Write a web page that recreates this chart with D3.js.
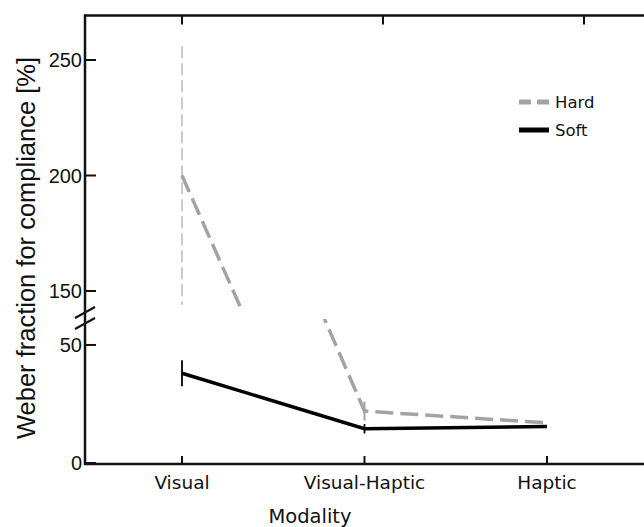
<!DOCTYPE html>
<html>
<head>
<meta charset="utf-8">
<script src="https://cdn.jsdelivr.net/npm/d3@7"></script>
<style>
html,body{margin:0;padding:0;background:#fff;}
svg{display:block;}
</style>
</head>
<body>
<svg id="chart" width="644" height="527"></svg>
<script>
// ---- data ----
const categories = ["Visual", "Visual-Haptic", "Haptic"];
const hardValues = [200, 22, 17];
const hardErrors = [56, 4, 0];
const softValues = [38, 14.5, 15.5];
const softErrors = [5.5, 2, 0];
const upperTicks = [150, 200, 250];
const lowerTicks = [0, 50];
const seriesNames = ["Hard", "Soft"];

const svg = d3.select("#chart");
const W = 644, H = 527;
const axisX = 85, bottomY = 464, topY = 15.5;
const upperBottom = 307, lowerTop = 319;

// scales
const xBottom = d3.scalePoint().domain(categories).range([182, 547]);
const xTop = d3.scalePoint().domain(categories).range([182, 584]);
const yLow = d3.scaleLinear().domain([0, 61]).range([463, 319]);
const yHigh = d3.scaleLinear().domain([150, 250]).range([291, 60]);

const gray = "#a3a3a3";

// clip paths
const defs = svg.append("defs");
defs.append("clipPath").attr("id", "clipUp").append("rect")
  .attr("x", axisX).attr("y", topY).attr("width", W - axisX).attr("height", upperBottom - topY);
defs.append("clipPath").attr("id", "clipLow").append("rect")
  .attr("x", axisX).attr("y", lowerTop).attr("width", W - axisX).attr("height", bottomY - lowerTop);

const hard = categories.map((c, i) => ({c, v: hardValues[i], e: hardErrors[i]}));
const soft = categories.map((c, i) => ({c, v: softValues[i], e: softErrors[i]}));

const gUp = svg.append("g").attr("clip-path", "url(#clipUp)");
const gLow = svg.append("g").attr("clip-path", "url(#clipLow)");

// Hard error bars
gUp.selectAll("line.errH").data(hard.filter(d => d.e > 0 && d.v > 100)).join("line")
  .attr("x1", d => xBottom(d.c)).attr("x2", d => xBottom(d.c))
  .attr("y1", d => yHigh(d.v + d.e)).attr("y2", d => yHigh(d.v - d.e))
  .attr("stroke", "#bdbdbd").attr("stroke-width", 1.6).attr("stroke-dasharray", "12,5");

gLow.selectAll("line.errH").data(hard.filter(d => d.e > 0 && d.v < 100)).join("line")
  .attr("x1", d => xBottom(d.c)).attr("x2", d => xBottom(d.c))
  .attr("y1", d => yLow(d.v + d.e)).attr("y2", d => yLow(d.v - d.e))
  .attr("stroke", gray).attr("stroke-width", 2);

// Hard line in both panels
const lineHigh = d3.line().x(d => xBottom(d.c)).y(d => yHigh(d.v));
const lineLow = d3.line().x(d => xBottom(d.c)).y(d => yLow(d.v));
gUp.append("path").datum(hard).attr("d", lineHigh)
  .attr("fill", "none").attr("stroke", gray).attr("stroke-width", 3.5).attr("stroke-dasharray", "18,7");
gLow.append("path").datum(hard).attr("d", lineLow)
  .attr("fill", "none").attr("stroke", gray).attr("stroke-width", 3.5).attr("stroke-dasharray", "18,7")
  .attr("stroke-dashoffset", 6);

// Soft error bars and line
gLow.selectAll("line.errS").data(soft.filter(d => d.e > 0)).join("line")
  .attr("x1", d => xBottom(d.c)).attr("x2", d => xBottom(d.c))
  .attr("y1", d => yLow(d.v + d.e)).attr("y2", d => yLow(d.v - d.e))
  .attr("stroke", "#000").attr("stroke-width", 1.8);
gLow.append("path").datum(soft).attr("d", lineLow)
  .attr("fill", "none").attr("stroke", "#000").attr("stroke-width", 3.5);

// ---- axes ----
const axStroke = "#111";
svg.append("line").attr("x1", axisX).attr("x2", axisX).attr("y1", topY - 1).attr("y2", bottomY + 1)
  .attr("stroke", axStroke).attr("stroke-width", 2.5);
svg.append("line").attr("x1", axisX - 1).attr("x2", W).attr("y1", bottomY).attr("y2", bottomY)
  .attr("stroke", axStroke).attr("stroke-width", 2.5);
svg.append("line").attr("x1", axisX - 1).attr("x2", W).attr("y1", topY).attr("y2", topY)
  .attr("stroke", axStroke).attr("stroke-width", 2.5);

// bottom ticks (inside) and labels
svg.selectAll("line.xt").data(categories).join("line")
  .attr("x1", d => xBottom(d)).attr("x2", d => xBottom(d))
  .attr("y1", bottomY).attr("y2", bottomY - 8)
  .attr("stroke", axStroke).attr("stroke-width", 2);
svg.selectAll("text.xl").data(categories).join("text")
  .attr("x", d => xBottom(d)).attr("y", 489)
  .attr("text-anchor", "middle")
  .attr("font-family", "DejaVu Sans, Verdana, sans-serif").attr("font-size", 18.5)
  .attr("fill", "#111").text(d => d);

// top ticks
svg.selectAll("line.xtt").data(categories).join("line")
  .attr("x1", d => xTop(d)).attr("x2", d => xTop(d))
  .attr("y1", topY).attr("y2", topY + 9)
  .attr("stroke", axStroke).attr("stroke-width", 2);

// y ticks
const yTickData = upperTicks.map(v => ({v, y: yHigh(v)})).concat(lowerTicks.map(v => ({v, y: yLow(v)})));
svg.selectAll("line.yt").data(yTickData).join("line")
  .attr("x1", axisX).attr("x2", axisX + 11)
  .attr("y1", d => d.y).attr("y2", d => d.y)
  .attr("stroke", axStroke).attr("stroke-width", 2);
svg.selectAll("text.yl").data(yTickData).join("text")
  .attr("x", 82).attr("y", d => d.y)
  .attr("dy", "0.36em")
  .attr("text-anchor", "end")
  .attr("font-family", "Liberation Sans, Arial, sans-serif").attr("font-size", 20)
  .attr("fill", "#111").text(d => d.v);

// axis break marks
[0, 11].forEach(off => {
  svg.append("line")
    .attr("x1", 75).attr("y1", 318 + off).attr("x2", 95).attr("y2", 307 + off)
    .attr("stroke", axStroke).attr("stroke-width", 2);
});

// axis titles
svg.append("text").attr("x", 310).attr("y", 523)
  .attr("text-anchor", "middle")
  .attr("font-family", "DejaVu Sans, Verdana, sans-serif").attr("font-size", 19.5)
  .attr("fill", "#111").text("Modality");
svg.append("text")
  .attr("transform", "translate(35,248) rotate(-90)")
  .attr("text-anchor", "middle")
  .attr("font-family", "Liberation Sans, Arial, sans-serif").attr("font-size", 25.5)
  .attr("fill", "#111").text("Weber fraction for compliance [%]");

// legend
const legend = svg.append("g");
const legY = [102, 130];
seriesNames.forEach((name, i) => {
  legend.append("line")
    .attr("x1", 519).attr("x2", 549).attr("y1", legY[i]).attr("y2", legY[i])
    .attr("stroke", i === 0 ? gray : "#000").attr("stroke-width", 5)
    .attr("stroke-dasharray", i === 0 ? "12,6" : null);
  legend.append("text")
    .attr("x", 555).attr("y", legY[i]).attr("dy", "0.36em")
    .attr("font-family", "DejaVu Sans, Verdana, sans-serif").attr("font-size", 16.5)
    .attr("fill", "#111").text(name);
});
</script>
</body>
</html>
